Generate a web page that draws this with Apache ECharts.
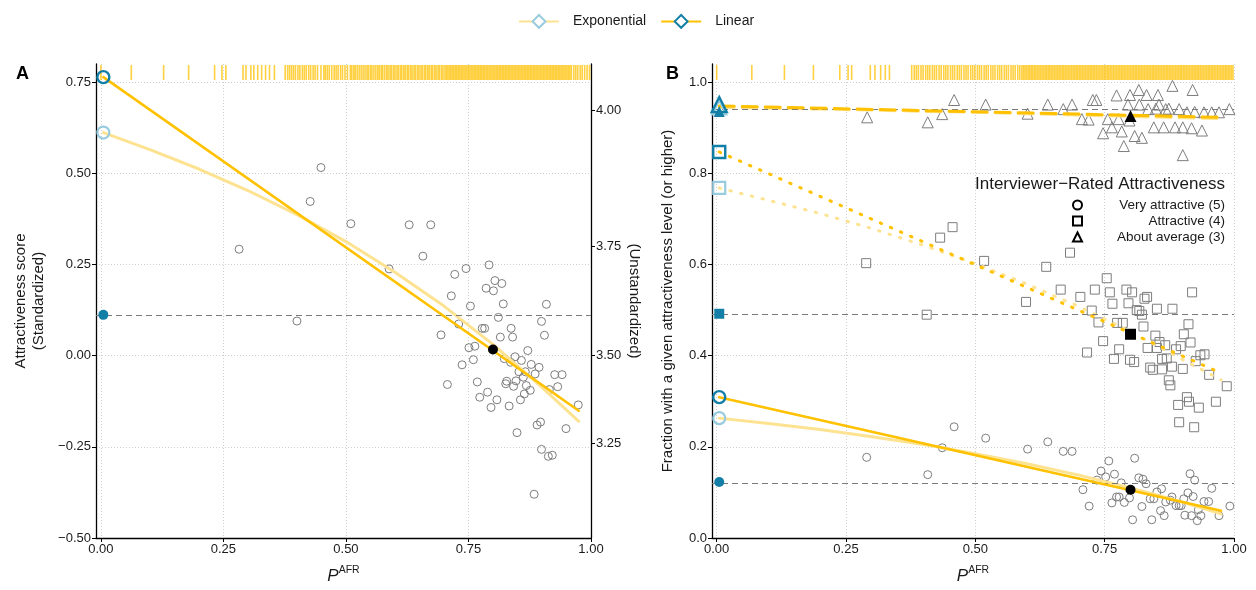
<!DOCTYPE html>
<html><head><meta charset="utf-8">
<script src="https://cdn.jsdelivr.net/npm/echarts@6/dist/echarts.min.js"></script>
<style>html,body{margin:0;padding:0;background:#fff}#c{width:1256px;height:590px}</style>
</head><body><div id="c"></div>
<script>
// ---------- tick labels ----------
const xTicks = [0, 0.25, 0.5, 0.75, 1.0];
const yTicksA = [-0.5, -0.25, 0, 0.25, 0.5, 0.75];
const yTicksB = [0, 0.2, 0.4, 0.6, 0.8, 1.0];
const rightTickLabels = ['3.25', '3.50', '3.75', '4.00'];
const rightTickPos = [-0.241, 0, 0.300, 0.673];   // standardized equivalents

// ---------- rugs (individual P_AFR) ----------
const rugA = [0.0,0.062,0.128,0.179,0.232,0.247,0.255,0.290,0.296,0.306,0.312,0.320,0.328,0.336,0.344,0.354,
0.376,0.381,0.385,0.389,0.393,0.397,0.402,0.406,0.411,0.415,0.419,0.424,0.428,0.433,0.437,0.442,0.449,0.455,0.458,0.462,0.466,0.471,0.476,0.480,0.484,0.489,0.493,0.498,0.503,0.509,0.512,0.516,0.519,0.523,0.527,0.531,0.535,0.539,0.543,0.546,0.550,0.553,0.557,0.561,0.565,0.568,0.572,0.575,0.579,0.583,0.586,0.590,0.593,0.597,0.600,0.604,0.607,0.611,0.614,0.618,0.621,0.625,0.628,0.632,0.635,0.639,0.642,0.646,0.649,0.653,0.656,0.660,0.663,0.667,0.670,0.674,0.677,0.681,0.684,0.688,0.691,0.695,0.698,0.702,0.705,
0.708,0.711,0.714,0.717,0.720,0.723,0.726,0.729,0.732,0.735,0.738,0.741,0.744,0.747,0.750,0.753,0.756,0.759,0.762,0.765,0.768,0.771,0.774,0.777,0.780,0.783,0.786,0.789,0.792,0.795,0.798,0.801,0.804,0.807,0.810,0.813,0.816,0.819,0.822,0.825,0.828,0.831,0.834,0.837,0.840,0.843,0.846,0.849,0.852,0.855,0.858,0.861,0.864,0.867,0.870,0.873,0.876,0.879,0.882,0.885,0.888,0.891,0.894,0.897,0.900,0.903,0.906,0.909,0.912,0.915,0.918,0.921,0.924,0.927,0.930,0.933,0.936,0.939,0.942,0.945,0.948,0.951,0.954,0.957,0.960,
0.965,0.969,0.973,0.978,0.982,0.987,0.992,0.997];
const rugB = [0.0,0.068,0.131,0.187,0.238,0.254,0.261,0.297,0.306,0.317,0.326,0.334,
0.377,0.382,0.386,0.390,0.395,0.399,0.404,0.408,0.412,0.417,0.421,0.425,0.430,0.434,0.439,0.443,0.447,0.452,0.456,0.460,0.465,0.469,0.473,0.478,0.482,0.486,0.491,0.495,0.499,0.504,0.508,0.512,0.517,0.521,0.525,0.530,0.534,0.538,0.543,0.547,0.551,0.556,0.560,0.564,0.569,0.573,0.577,0.582,0.586,0.590,
0.593,0.596,0.599,0.602,0.605,0.608,0.611,0.614,0.617,0.620,0.623,0.626,0.629,0.632,0.635,0.638,0.641,0.644,0.647,0.650,0.653,0.656,0.659,0.662,0.665,0.668,0.671,0.674,0.677,0.680,0.683,0.686,0.689,0.692,0.695,0.698,0.701,0.704,0.707,
0.710,0.713,0.716,0.719,0.722,0.725,0.728,0.731,0.734,0.737,0.740,0.743,0.746,0.749,0.752,0.755,0.758,0.761,0.764,0.767,0.770,0.773,0.776,0.779,0.782,0.785,0.788,0.791,0.794,0.797,0.800,0.803,0.806,0.809,0.812,0.815,0.818,0.821,0.824,0.827,0.830,0.833,0.836,0.839,0.842,0.845,0.848,0.851,0.854,0.857,0.860,0.863,0.866,0.869,0.872,0.875,0.878,0.881,0.884,0.887,0.890,0.893,0.896,0.899,0.902,0.905,0.908,0.911,0.914,0.917,0.920,0.923,0.926,0.929,0.932,0.935,0.938,0.941,0.944,0.947,0.950,0.953,0.956,0.959,0.962,0.965,0.968,0.971,0.974,0.977,0.980,0.983,0.986,0.989,0.992,0.995,0.998];

// ---------- Panel A: group means ----------
const xA = [0.282,0.400,0.427,0.449,0.510,0.588,0.629,0.657,0.673,0.722,0.745,0.792,0.804,0.818,0.786,0.801,0.715,0.821,0.754,0.909,0.811,0.899,0.730,0.778,0.783,0.837,0.694,0.905,0.815,0.840,0.751,0.763,0.871,0.760,0.823,0.845,0.858,0.737,0.836,0.878,0.894,0.853,0.866,0.886,0.926,0.941,0.862,0.847,0.828,0.826,0.768,0.707,0.842,0.868,0.876,0.932,0.915,0.789,0.864,0.773,0.808,0.856,0.796,0.833,0.974,0.897,0.849,0.890,0.949,0.899,0.913,0.921,0.884];
const yA = [0.292,0.095,0.423,0.516,0.362,0.238,0.359,0.273,0.359,0.223,0.239,0.249,0.206,0.198,0.185,0.178,0.164,0.142,0.136,0.141,0.105,0.094,0.087,0.075,0.075,0.075,0.057,0.056,0.051,0.051,0.022,0.026,0.014,-0.011,-0.008,-0.003,-0.013,-0.025,-0.018,-0.024,-0.032,-0.044,-0.044,-0.050,-0.052,-0.052,-0.059,-0.069,-0.070,-0.077,-0.072,-0.079,-0.084,-0.082,-0.095,-0.085,-0.093,-0.100,-0.105,-0.114,-0.121,-0.121,-0.142,-0.138,-0.135,-0.182,-0.211,-0.190,-0.200,-0.257,-0.276,-0.273,-0.380];

// ---------- Panel B: fractions ----------
const xBc = [0.290,0.408,0.436,0.459,0.520,0.601,0.640,0.670,0.687,0.708,0.720,0.758,0.743,0.735,0.752,0.769,0.782,0.808,0.804,0.841,0.764,0.773,0.778,0.788,0.798,0.816,0.824,0.830,0.822,0.838,0.845,0.851,0.860,0.858,0.868,0.865,0.877,0.880,0.888,0.894,0.898,0.903,0.911,0.915,0.924,0.921,0.905,0.918,0.929,0.936,0.931,0.942,0.951,0.957,0.971,0.992];
const yBc = [0.177,0.139,0.198,0.244,0.219,0.195,0.211,0.190,0.190,0.106,0.070,0.169,0.147,0.127,0.134,0.140,0.121,0.175,0.040,0.040,0.077,0.090,0.090,0.078,0.088,0.132,0.129,0.119,0.069,0.086,0.086,0.101,0.108,0.060,0.079,0.049,0.083,0.090,0.071,0.071,0.071,0.086,0.099,0.141,0.127,0.091,0.050,0.049,0.038,0.049,0.062,0.080,0.080,0.109,0.049,0.070];
const xBs = [0.289,0.406,0.432,0.456,0.517,0.598,0.637,0.665,0.683,0.703,0.716,0.725,0.731,0.738,0.747,0.754,0.760,0.765,0.768,0.774,0.778,0.785,0.792,0.796,0.799,0.803,0.807,0.812,0.817,0.822,0.825,0.827,0.832,0.833,0.848,0.851,0.838,0.843,0.851,0.856,0.861,0.861,0.867,0.870,0.874,0.877,0.880,0.881,0.888,0.897,0.901,0.903,0.909,0.912,0.913,0.916,0.919,0.926,0.932,0.935,0.943,0.892,0.894,0.923,0.952,0.965,0.986];
const yBs = [0.603,0.490,0.659,0.682,0.608,0.518,0.595,0.545,0.626,0.529,0.407,0.499,0.545,0.473,0.432,0.570,0.539,0.514,0.393,0.472,0.414,0.472,0.545,0.515,0.391,0.539,0.386,0.500,0.498,0.490,0.464,0.525,0.529,0.417,0.444,0.503,0.374,0.369,0.417,0.430,0.393,0.370,0.423,0.394,0.346,0.335,0.376,0.503,0.414,0.421,0.371,0.447,0.309,0.469,0.299,0.429,0.539,0.388,0.286,0.401,0.403,0.292,0.254,0.243,0.358,0.299,0.333];
const xBt = [0.291,0.408,0.436,0.459,0.520,0.601,0.640,0.670,0.687,0.706,0.719,0.727,0.734,0.747,0.756,0.764,0.773,0.777,0.783,0.787,0.795,0.799,0.798,0.808,0.816,0.817,0.822,0.831,0.834,0.845,0.849,0.853,0.855,0.864,0.868,0.874,0.881,0.886,0.894,0.901,0.901,0.909,0.920,0.924,0.918,0.938,0.942,0.957,0.971,0.991];
const yBt = [0.923,0.912,0.930,0.961,0.951,0.931,0.951,0.941,0.951,0.919,0.918,0.961,0.961,0.888,0.919,0.901,0.971,0.919,0.892,0.860,0.951,0.972,0.916,0.882,0.983,0.951,0.878,0.972,0.941,0.901,0.942,0.972,0.951,0.901,0.941,0.942,0.992,0.901,0.941,0.901,0.840,0.934,0.983,0.935,0.899,0.894,0.934,0.934,0.934,0.941];

// ---------- Fitted lines ----------
const linX = [0.005, 0.975];
const linA = [0.764, -0.151];
const linBc = [0.309, 0.060];
const linBs = [0.847, 0.362];
const linBt = [0.948, 0.923];
const expX = [0.005, 0.1, 0.2, 0.3, 0.4, 0.5, 0.6, 0.7, 0.8, 0.9, 0.975];
const expA  = [0.612, 0.565, 0.512, 0.453, 0.387, 0.313, 0.229, 0.136, 0.031, -0.087, -0.180];
const expBc = [0.263, 0.251, 0.238, 0.222, 0.205, 0.185, 0.163, 0.138, 0.110, 0.079, 0.053];
const expBs = [0.768, 0.741, 0.712, 0.679, 0.642, 0.602, 0.557, 0.508, 0.453, 0.392, 0.347];
const expBt = [0.945, 0.943, 0.941, 0.939, 0.936, 0.934, 0.931, 0.928, 0.925, 0.922, 0.920];

// ---------- Intercept markers (x = 0), observed reference, mean ----------
const x0 = 0.005;
const interceptLin = {A: 0.764, Bc: 0.309, Bs: 0.847, Bt: 0.951};
const interceptExp = {A: 0.612, Bc: 0.263, Bs: 0.768, Bt: 0.945};
const observed0 = {A: 0.112, Bc: 0.123, Bs: 0.492, Bt: 0.936};
const meanX = 0.80;
const meanY = {A: 0.017, Bc: 0.106, Bs: 0.447, Bt: 0.926};

// ---------- styling ----------
const FONT = 'Liberation Sans, Arial, Helvetica, sans-serif';
const TXT = '#1a1a1a';
const YEL = '#FFC100';
const YEL_L = '#FDE391';
const BLUE = '#137FA6';
const BLUE_L = '#98CBDE';
const GREY_PT = '#7d7d7d';
const zip = (xs, ys) => xs.map((x, i) => [x, ys[i]]);

const A_YMAX = 0.80, B_YMAX = 1.04;

function axisBase() {
  return {
    axisLine: {show: true, onZero: false, lineStyle: {color: '#000', width: 1.3}},
    axisTick: {show: true, length: 4, lineStyle: {color: '#000', width: 1}},
    axisLabel: {color: TXT, fontFamily: FONT, fontSize: 13, margin: 5},
    splitLine: {show: true, lineStyle: {color: '#cfcfcf', type: [1, 2], width: 1}}
  };
}
const fmt2 = v => (v < 0 ? '\u2212' : '') + Math.abs(v).toFixed(2);
const fmt1 = v => v.toFixed(1);
const xName = {
  name: '{p|P}{s|AFR}', nameLocation: 'middle', nameGap: 27,
  nameTextStyle: {rich: {
    p: {fontFamily: FONT, fontSize: 17, fontStyle: 'italic', color: TXT, lineHeight: 20, verticalAlign: 'bottom'},
    s: {fontFamily: FONT, fontSize: 10.5, color: TXT, lineHeight: 11, verticalAlign: 'top'}
  }}
};
function makeX(idx, min) {
  const b = axisBase();
  return Object.assign({type: 'value', gridIndex: idx, min: min, max: 1.0}, b, xName, {
    axisTick: Object.assign({}, b.axisTick, {customValues: xTicks}),
    axisLabel: Object.assign({}, b.axisLabel, {customValues: xTicks, formatter: fmt2}),
  });
}

function ptSeries(name, data, sym, size, xi, yi) {
  return {type: 'scatter', name: name, xAxisIndex: xi, yAxisIndex: yi, data: data, symbol: sym, symbolSize: size,
    itemStyle: {color: 'rgba(255,255,255,0)', borderColor: GREY_PT, borderWidth: 1, opacity: 1}, z: 3, silent: true};
}
function lineSeries(name, xs, ys, color, width, type, xi, yi, z) {
  return {type: 'line', name: name, xAxisIndex: xi, yAxisIndex: yi, data: zip(xs, ys), symbol: 'none',
    smooth: false, lineStyle: {color: color, width: width, type: type, cap: 'round'}, z: z, silent: true};
}
function markerSeries(name, y, sym, size, color, border, filled, xi, yi) {
  return {type: 'scatter', name: name, xAxisIndex: xi, yAxisIndex: yi, data: [[x0, y]], symbol: sym, symbolSize: size,
    itemStyle: filled ? {color: color, opacity: 1} : {color: 'rgba(255,255,255,0)', borderColor: color, borderWidth: border, opacity: 1}, z: 6, silent: true};
}
function meanSeries(y, sym, size, xi, yi) {
  return {type: 'scatter', xAxisIndex: xi, yAxisIndex: yi, data: [[meanX, y]], symbol: sym, symbolSize: size,
    itemStyle: {color: '#000', opacity: 1}, z: 7, silent: true};
}
function refLine(y, xi, yi) {
  return {type: 'line', xAxisIndex: xi, yAxisIndex: yi, data: [], silent: true, z: 2,
    markLine: {silent: true, symbol: 'none', label: {show: false}, animation: false,
      lineStyle: {color: '#7a7a7a', type: [6, 4], width: 1.2}, data: [{yAxis: y}]}};
}
function rug(vals, xi, yi, ymax) {
  return {type: 'scatter', xAxisIndex: xi, yAxisIndex: yi, data: vals.map(x => [x, ymax]), symbol: 'rect',
    symbolSize: [1.6, 15], symbolOffset: [0, 8.5], itemStyle: {color: '#FFC000', opacity: 0.75}, z: 1, silent: true};
}

const series = [
  // legend proxies
  {type: 'line', name: 'Exponential', xAxisIndex: 0, yAxisIndex: 0, data: [], symbol: 'diamond', symbolSize: 16,
   lineStyle: {color: YEL_L, width: 3}, itemStyle: {color: '#fff', borderColor: BLUE_L, borderWidth: 2.2}},
  {type: 'line', name: 'Linear', xAxisIndex: 0, yAxisIndex: 0, data: [], symbol: 'diamond', symbolSize: 16,
   lineStyle: {color: YEL, width: 3}, itemStyle: {color: '#fff', borderColor: BLUE, borderWidth: 2.2}},

  // ----- Panel A -----
  rug(rugA, 0, 0, A_YMAX),
  refLine(observed0.A, 0, 0),
  ptSeries('A points', zip(xA, yA), 'circle', 8, 0, 0),
  lineSeries('Exponential', expX, expA, YEL_L, 3, 'solid', 0, 0, 4),
  lineSeries('Linear', linX, linA, YEL, 2.6, 'solid', 0, 0, 5),
  markerSeries('Exponential', interceptExp.A, 'circle', 12, BLUE_L, 2.2, false, 0, 0),
  markerSeries('Linear', interceptLin.A, 'circle', 12, BLUE, 2.4, false, 0, 0),
  markerSeries('obsA', observed0.A, 'circle', 10, BLUE, 0, true, 0, 0),
  meanSeries(meanY.A, 'circle', 10, 0, 0),

  // ----- Panel B -----
  rug(rugB, 1, 2, B_YMAX),
  refLine(observed0.Bc, 1, 2),
  refLine(observed0.Bs, 1, 2),
  refLine(observed0.Bt, 1, 2),
  ptSeries('Very attractive (5)', zip(xBc, yBc), 'circle', 8, 1, 2),
  ptSeries('Attractive (4)', zip(xBs, yBs), 'rect', 9, 1, 2),
  ptSeries('About average (3)', zip(xBt, yBt), 'triangle', 11, 1, 2),
  lineSeries('Exponential', expX, expBc, YEL_L, 3, 'solid', 1, 2, 4),
  lineSeries('Exponential', expX, expBs, YEL_L, 3, [1.5, 9.5], 1, 2, 4),
  lineSeries('Exponential', expX, expBt, YEL_L, 3, [15, 8], 1, 2, 4),
  lineSeries('Linear', linX, linBc, YEL, 2.6, 'solid', 1, 2, 5),
  lineSeries('Linear', linX, linBs, YEL, 3, [1.5, 9.5], 1, 2, 5),
  lineSeries('Linear', linX, linBt, YEL, 3, [15, 8], 1, 2, 5),
  markerSeries('Exponential', interceptExp.Bc, 'circle', 12, BLUE_L, 2.2, false, 1, 2),
  markerSeries('Linear', interceptLin.Bc, 'circle', 12, BLUE, 2.4, false, 1, 2),
  markerSeries('obsBc', observed0.Bc, 'circle', 10, BLUE, 0, true, 1, 2),
  markerSeries('Exponential', interceptExp.Bs, 'rect', 12, BLUE_L, 2.2, false, 1, 2),
  markerSeries('Linear', interceptLin.Bs, 'rect', 12, BLUE, 2.4, false, 1, 2),
  markerSeries('obsBs', observed0.Bs, 'rect', 10, BLUE, 0, true, 1, 2),
  markerSeries('Exponential', interceptExp.Bt, 'triangle', 14, BLUE_L, 2.2, false, 1, 2),
  markerSeries('obsBt', observed0.Bt, 'triangle', 11, BLUE, 0, true, 1, 2),
  markerSeries('Linear', interceptLin.Bt, 'triangle', 15, BLUE, 2.4, false, 1, 2),
  meanSeries(meanY.Bc, 'circle', 10, 1, 2),
  meanSeries(meanY.Bs, 'rect', 11, 1, 2),
  meanSeries(meanY.Bt, 'triangle', 12, 1, 2)
];

const bA = axisBase(), bA2 = axisBase(), bB = axisBase();
const option = {
  animation: false,
  backgroundColor: '#fff',
  textStyle: {fontFamily: FONT},
  title: [
    {text: 'A', left: 11, top: 60, textStyle: {fontFamily: FONT, fontSize: 18, fontWeight: 'bold', color: '#000'}},
    {text: 'B', left: 661, top: 60, textStyle: {fontFamily: FONT, fontSize: 18, fontWeight: 'bold', color: '#000'}},
    {text: 'Interviewer\u2212Rated Attractiveness', left: 970, top: 171, textStyle: {fontFamily: FONT, fontSize: 17, fontWeight: 'normal', color: TXT}}
  ],
  legend: [
    {data: ['Exponential', 'Linear'], left: 513, top: 9, itemWidth: 40, itemHeight: 16, itemGap: 14,
     textStyle: {fontFamily: FONT, fontSize: 14, color: TXT, padding: [0, 0, 0, 9]}, selectedMode: false},
    {data: [
      {name: 'Very attractive (5)', icon: 'circle', itemStyle: {color: '#fff', borderColor: '#000', borderWidth: 2}},
      {name: 'Attractive (4)', icon: 'rect', itemStyle: {color: '#fff', borderColor: '#000', borderWidth: 2}},
      {name: 'About average (3)', icon: 'triangle', itemStyle: {color: '#fff', borderColor: '#000', borderWidth: 2}}
     ], orient: 'vertical', left: 1067, top: 193, itemWidth: 9, itemHeight: 9, itemGap: 2, selectedMode: false,
     formatter: '{r|{name}}',
     textStyle: {fontFamily: FONT, fontSize: 13.5, color: TXT, rich: {r: {width: 138, align: 'right', lineHeight: 14, fontFamily: FONT, fontSize: 13.5, color: TXT}}}}
  ],
  grid: [
    {left: 96, right: 665, top: 64, bottom: 42.5, containLabel: false},
    {left: 712, right: 22, top: 64, bottom: 44, containLabel: false}
  ],
  xAxis: [makeX(0, -0.01), makeX(1, -0.009)],
  yAxis: [
    Object.assign({type: 'value', gridIndex: 0, min: -0.5, max: A_YMAX, position: 'left'}, bA, {
      name: 'Attractiveness score\n(Standardized)', nameLocation: 'middle', nameGap: 48,
      nameTextStyle: {fontFamily: FONT, fontSize: 15, color: TXT, lineHeight: 18},
      axisTick: Object.assign({}, bA.axisTick, {customValues: yTicksA}),
      axisLabel: Object.assign({}, bA.axisLabel, {customValues: yTicksA, formatter: fmt2})
    }),
    Object.assign({type: 'value', gridIndex: 0, min: -0.5, max: A_YMAX, position: 'right'}, bA2, {
      name: '(Unstandardized)', nameLocation: 'middle', nameGap: 36, nameRotate: -90,
      nameTextStyle: {fontFamily: FONT, fontSize: 15, color: TXT},
      splitLine: {show: false},
      axisTick: Object.assign({}, bA2.axisTick, {customValues: rightTickPos}),
      axisLabel: Object.assign({}, bA2.axisLabel, {customValues: rightTickPos,
        formatter: v => { let best = 0; rightTickPos.forEach((p, i) => { if (Math.abs(p - v) < Math.abs(rightTickPos[best] - v)) best = i; }); return rightTickLabels[best]; }})
    }),
    Object.assign({type: 'value', gridIndex: 1, min: 0, max: B_YMAX, position: 'left'}, bB, {
      name: 'Fraction with a given attractiveness level (or higher)', nameLocation: 'middle', nameGap: 37,
      nameTextStyle: {fontFamily: FONT, fontSize: 15, color: TXT},
      axisTick: Object.assign({}, bB.axisTick, {customValues: yTicksB}),
      axisLabel: Object.assign({}, bB.axisLabel, {customValues: yTicksB, formatter: fmt1})
    })
  ],
  series: series
};
echarts.init(document.getElementById('c'), null, {renderer: 'canvas'}).setOption(option);
</script></body></html>
